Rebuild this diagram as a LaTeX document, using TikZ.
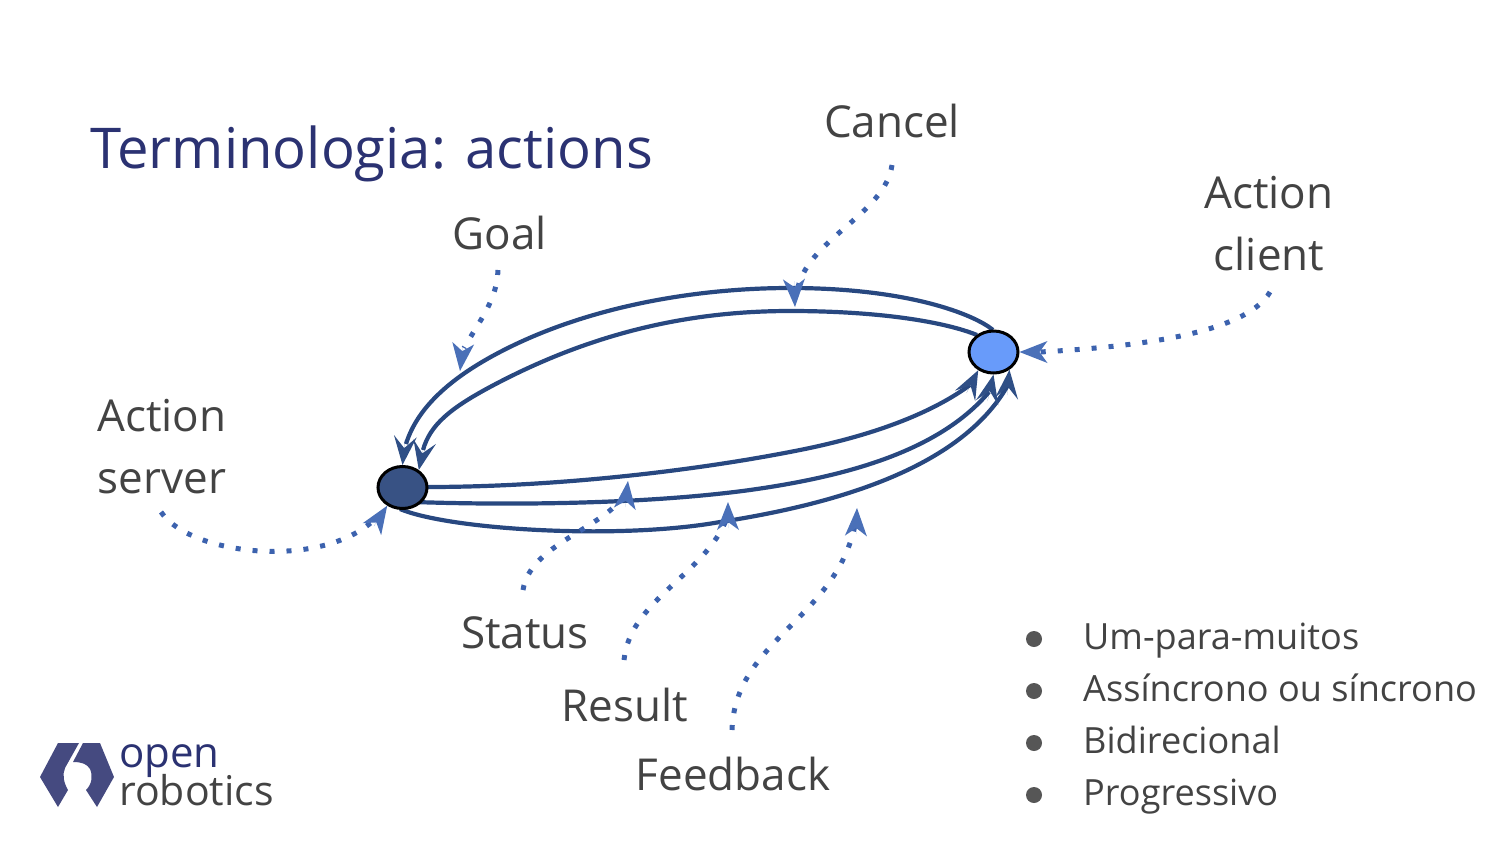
\documentclass[tikz,border=0pt]{standalone}
\usepackage{fontspec}
\setmainfont{Open Sans}
\usetikzlibrary{arrows.meta,shapes.geometric}
\definecolor{txt}{HTML}{434343}
\definecolor{titlec}{HTML}{2B3272}
\definecolor{linkc}{HTML}{284880}
\definecolor{tipc}{HTML}{2F4F86}
\definecolor{dotc}{HTML}{3C62AE}
\definecolor{dtip}{HTML}{4A70B8}
\definecolor{logoc}{HTML}{454A80}
\tikzset{
  x=1pt,y=-1pt,
  lab/.style={text=txt,font=\fontsize{44}{62}\selectfont,align=center,inner sep=0pt},
  bul/.style={text=txt,font=\fontsize{36.1}{36}\selectfont,anchor=base west,inner sep=0pt},
  dotb/.style={circle,fill=txt!90,inner sep=0pt,minimum size=16pt},
  ends/.style={ellipse,draw=black,line width=3pt,minimum width=49pt,minimum height=42pt,inner sep=0pt},
  link/.style={draw=linkc,line width=4.2pt},
  linktip/.style={draw=tipc,line width=0.01pt,-{Stealth[length=29pt,width=23pt,inset=12pt,fill=tipc,line width=0pt]}},
  pointer/.style={draw=dotc,line width=5pt,dash pattern=on 5pt off 12pt},
  pointertip/.style={draw=dtip,line width=0.01pt,-{Stealth[length=28pt,width=22pt,inset=8pt,fill=dtip,line width=0pt]}},
}
\begin{document}
\begin{tikzpicture}
\useasboundingbox (0,0) rectangle (1500,844);
\node[inner sep=0pt,anchor=base west,text=titlec,font=\fontsize{56.2}{56}\selectfont] (title) at (90,168) {Terminologia: actions};
% links (under the end points)
\draw[link] (993,330) .. controls (975,315) and (910,288) .. (790,288)
  .. controls (700,288) and (590,305) .. (500,352)
  .. controls (455,375.5) and (418,405) .. (406,444);
\draw[link] (977,335) .. controls (945,322) and (880,311) .. (790,311)
  .. controls (700,311) and (600,328) .. (490,387)
  .. controls (450,408.5) and (430,425) .. (423,450);
\draw[link] (427,487) .. controls (560,487) and (700,470) .. (800,450)
  .. controls (860,438) and (925,418) .. (970,385);
\draw[link] (415,502) .. controls (500,505) and (640,505) .. (750,490)
  .. controls (850,476) and (940,450) .. (989,392);
\draw[link] (400,509) .. controls (450,530) and (620,540) .. (720,522)
  .. controls (830,505) and (960,470) .. (1008,385);
% end points
\node[ends,fill={rgb,255:red,56;green,82;blue,132}] (server) at (402.5,487.5) {};
\node[ends,fill={rgb,255:red,104;green,155;blue,250}] (client) at (993.5,352) {};
% link tips
\coordinate (lt1) at (405,440);
\coordinate (lt2) at (424,445);
\coordinate (lt3) at (966.5,393);
\coordinate (lt4) at (987.5,401);
\coordinate (lt5) at (1007,395);
\draw[linktip] (lt1) -- (server.90);
\draw[linktip] (lt2) -- (server.47);
\draw[linktip] (lt3) -- (client.-130);
\draw[linktip] (lt4) -- (client.-90);
\draw[linktip] (lt5) -- (client.-48);
% labels
\node[lab] (cancel) at (892,120.5) {Cancel};
\node[lab] (goal) at (500,232.5) {Goal};
\node[lab,anchor=north] (aclient) at (1269,176) {Action\\client};
\node[lab,anchor=north] (aserver) at (162,399) {Action\\server};
\node[lab] (status) at (525,633) {Status};
\node[lab] (result) at (625,704.5) {Result};
\node[lab] (feedback) at (733,773.5) {Feedback};
% free ends
\coordinate (cancelTip) at (795,307);
\coordinate (goalTip) at (460,371);
\coordinate (statusTip) at (628,481);
\coordinate (resultTip) at (728,502);
\coordinate (feedbackTip) at (857,508);
\coordinate (pc) at (794,281);
\coordinate (pg) at (463,345);
\coordinate (ps) at (625,507);
\coordinate (pr) at (728,528);
\coordinate (pf) at (856,534);
\coordinate (pa) at (1046,352);
\coordinate (pv) at (374,526);
% pointers
\draw[pointer] (892,165) .. controls (885,215) and (805,240) .. (797,292);
\draw[pointer] (498,270) .. controls (497,300) and (480,320) .. (464,348);
\draw[pointer] (1270,292) .. controls (1245,335) and (1130,347) .. (1040,352);
\draw[pointer] (161,512) .. controls (190,555) and (320,570) .. (374,520);
\draw[pointer] (523,590) .. controls (530,545) and (600,530) .. (625,495);
\draw[pointer] (624,660) .. controls (630,600) and (705,575) .. (727,518);
\draw[pointer] (732,730) .. controls (735,640) and (835,620) .. (855,525);
\draw[pointertip] (pc) -- (cancelTip);
\draw[pointertip] (pg) -- (goalTip);
\draw[pointertip] (pa) -- (client.east);
\draw[pointertip] (pv) -- (server.-130);
\draw[pointertip] (ps) -- (statusTip);
\draw[pointertip] (pr) -- (resultTip);
\draw[pointertip] (pf) -- (feedbackTip);
% bullets
\node[dotb] (b1) at (1034,639) {};
\node[dotb] (b2) at (1034,691) {};
\node[dotb] (b3) at (1034,743) {};
\node[dotb] (b4) at (1034,795) {};
\node[bul] (t1) at (1083,649.5) {Um-para-muitos};
\node[bul] (t2) at (1083,701.5) {Assíncrono ou síncrono};
\node[bul] (t3) at (1083,753.5) {Bidirecional};
\node[bul] (t4) at (1083,805.5) {Progressivo};
% logo
\fill[logoc] (40,777) -- (58,743) -- (79,743) -- (65,768) .. controls (62,775) and (64,783) .. (68,790) -- (58,807) -- cycle;
\fill[logoc] (83,743) -- (100,743) -- (114,777) -- (97,807) -- (86,790) .. controls (92,784) and (93,776) .. (90,769) .. controls (87,764) and (82,762) .. (73,762) -- cycle;
\node[inner sep=0pt,anchor=base west,text=titlec,font=\fontsize{42}{42}\selectfont] (lopen) at (119,767) {open};
\node[inner sep=0pt,anchor=base west,text=txt,font=\fontsize{41}{41}\selectfont] (lrobotics) at (119,805.5) {robotics};
\end{tikzpicture}
\end{document}
